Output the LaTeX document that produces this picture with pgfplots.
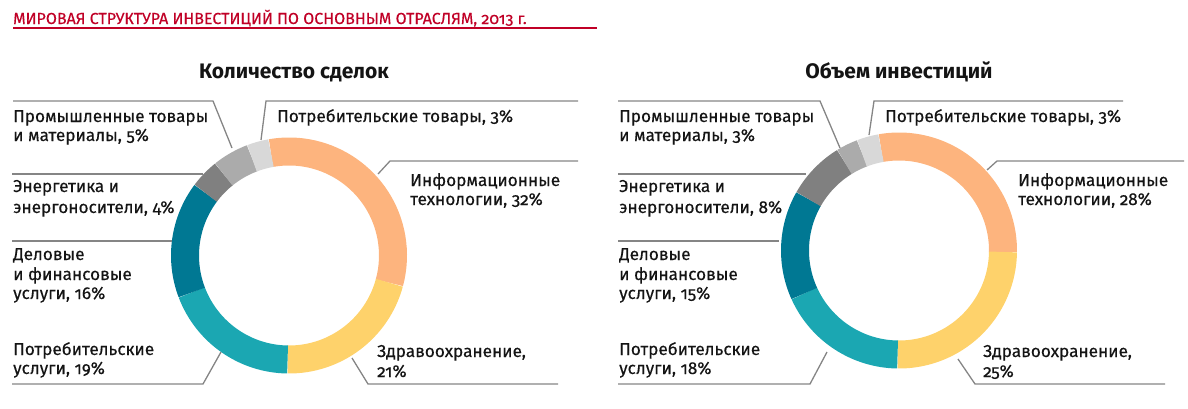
\documentclass[border=0pt]{standalone}
\usepackage{pgfplots}
\pgfplotsset{compat=1.18}
\usepackage{pgfplotstable}
\usepackage{fontspec}
\setmainfont{Fira Sans}[Numbers=OldStyle]
\newfontfamily\lblfont{Fira Sans}[Numbers=OldStyle, FakeBold=0.35]
\definecolor{cIT}{HTML}{FDB47E}
\definecolor{cHC}{HTML}{FED26B}
\definecolor{cCS}{HTML}{1BA7B2}
\definecolor{cBF}{HTML}{007893}
\definecolor{cEN}{HTML}{808080}
\definecolor{cIN}{HTML}{ABABAB}
\definecolor{cCG}{HTML}{D8D8D8}
\definecolor{titlered}{HTML}{C00026}
\definecolor{leadgray}{HTML}{858585}
\definecolor{txt}{HTML}{141414}

\pgfplotstableread{
share color
32 cIT
21 cHC
19 cCS
16 cBF
4 cEN
5 cIN
3 cCG
}\deals

\pgfplotstableread{
share color
28 cIT
25 cHC
18 cCS
15 cBF
8 cEN
3 cIN
3 cCG
}\volume

\newcommand\donut[3]{%
  \pgfplotstablegetrowsof{#1}%
  \pgfmathtruncatemacro\lastrow{\pgfplotsretval-1}%
  \gdef\cumshare{0}%
  \foreach \r in {0,...,\lastrow}{%
    \pgfplotstablegetelem{\r}{share}\of#1\let\sh\pgfplotsretval
    \pgfplotstablegetelem{\r}{color}\of#1\let\co\pgfplotsretval
    \pgfmathsetmacro\aa{100-3.6*\cumshare}%
    \pgfmathsetmacro\bb{100-3.6*(\cumshare+\sh)}%
    \edef\tmp{\noexpand\draw[\co, line width=28pt, line cap=butt] (axis cs:#2,#3) ++(\aa:104pt) arc[start angle=\aa, end angle=\bb, radius=104pt];}%
    \tmp
    \pgfmathsetmacro\nc{\cumshare+\sh}\xdef\cumshare{\nc}%
  }%
}

\tikzset{
  lbl/.style={anchor=base west, inner sep=0pt, text=txt, font=\lblfont\fontsize{17.2}{20}\selectfont},
  lead/.style={draw=leadgray, line width=1.3pt},
}

\begin{document}
\begin{tikzpicture}
\begin{axis}[width=1188pt, height=408pt, scale only axis,
  xmin=0, xmax=1188, ymin=0, ymax=408, y dir=reverse,
  hide axis, clip=false]
\path (axis cs:0,0) rectangle (axis cs:1188,408);

% title
\node[anchor=base west, inner sep=0pt, text=titlered, font=\lblfont\fontsize{16}{18}\selectfont] at (axis cs:13,24) {МИРОВАЯ СТРУКТУРА ИНВЕСТИЦИЙ ПО ОСНОВНЫМ ОТРАСЛЯМ, 2013 г.};
\draw[titlered, line width=1.3pt] (axis cs:13,28) -- (axis cs:597,28);

% subtitles
\node[anchor=base, inner sep=0pt, text=txt, font=\fontsize{21}{24}\selectfont\bfseries] at (axis cs:294,78) {Количество сделок};
\node[anchor=base, inner sep=0pt, text=txt, font=\fontsize{21}{24}\selectfont\bfseries] at (axis cs:899,78) {Объем инвестиций};

% donuts
\donut{\deals}{289}{255.5}
\donut{\volume}{899}{250.5}

% leader lines left
\draw[lead] (axis cs:13,101) -- (axis cs:213,101) -- (axis cs:232,148);
\draw[lead] (axis cs:261,140) -- (axis cs:266,101) -- (axis cs:578,101);
\draw[lead] (axis cs:378,174) -- (axis cs:390,161) -- (axis cs:578,161);
\draw[lead] (axis cs:12,174) -- (axis cs:203,174);
\draw[lead] (axis cs:12,241) -- (axis cs:172,241);
\draw[lead] (axis cs:12,384) -- (axis cs:203,384) -- (axis cs:221,352);
\draw[lead] (axis cs:352,358) -- (axis cs:368,384) -- (axis cs:558,384);

% leader lines right
\draw[lead] (axis cs:618,101) -- (axis cs:820,101) -- (axis cs:840,148);
\draw[lead] (axis cs:869,135) -- (axis cs:874,101) -- (axis cs:1123,101);
\draw[lead] (axis cs:987,170) -- (axis cs:997,161) -- (axis cs:1184,161);
\draw[lead] (axis cs:618,174) -- (axis cs:806,174);
\draw[lead] (axis cs:618,241) -- (axis cs:779,241);
\draw[lead] (axis cs:618,384) -- (axis cs:810,384) -- (axis cs:827,352);
\draw[lead] (axis cs:958,359) -- (axis cs:975,384) -- (axis cs:1165,384);

% labels left
\node[lbl] at (axis cs:13,122) {Промышленные товары};
\node[lbl] at (axis cs:13,141) {и материалы, 5\%};
\node[lbl] at (axis cs:277,122) {Потребительские товары, 3\%};
\node[lbl] at (axis cs:410,186) {Информационные};
\node[lbl] at (axis cs:410,205) {технологии, 32\%};
\node[lbl] at (axis cs:13,192) {Энергетика и};
\node[lbl] at (axis cs:13,213) {энергоносители, 4\%};
\node[lbl] at (axis cs:13,260) {Деловые};
\node[lbl] at (axis cs:13,280) {и финансовые};
\node[lbl] at (axis cs:13,299) {услуги, 16\%};
\node[lbl] at (axis cs:13,355) {Потребительские};
\node[lbl] at (axis cs:13,374) {услуги, 19\%};
\node[lbl] at (axis cs:377,357) {Здравоохранение,};
\node[lbl] at (axis cs:377,377) {21\%};

% labels right
\node[lbl] at (axis cs:619,122) {Промышленные товары};
\node[lbl] at (axis cs:619,141) {и материалы, 3\%};
\node[lbl] at (axis cs:885,122) {Потребительские товары, 3\%};
\node[lbl] at (axis cs:1018,186) {Информационные};
\node[lbl] at (axis cs:1018,205) {технологии, 28\%};
\node[lbl] at (axis cs:619,192) {Энергетика и};
\node[lbl] at (axis cs:619,213) {энергоносители, 8\%};
\node[lbl] at (axis cs:619,260) {Деловые};
\node[lbl] at (axis cs:619,280) {и финансовые};
\node[lbl] at (axis cs:619,299) {услуги, 15\%};
\node[lbl] at (axis cs:619,355) {Потребительские};
\node[lbl] at (axis cs:619,374) {услуги, 18\%};
\node[lbl] at (axis cs:983,357) {Здравоохранение,};
\node[lbl] at (axis cs:983,377) {25\%};
\end{axis}
\end{tikzpicture}
\end{document}
